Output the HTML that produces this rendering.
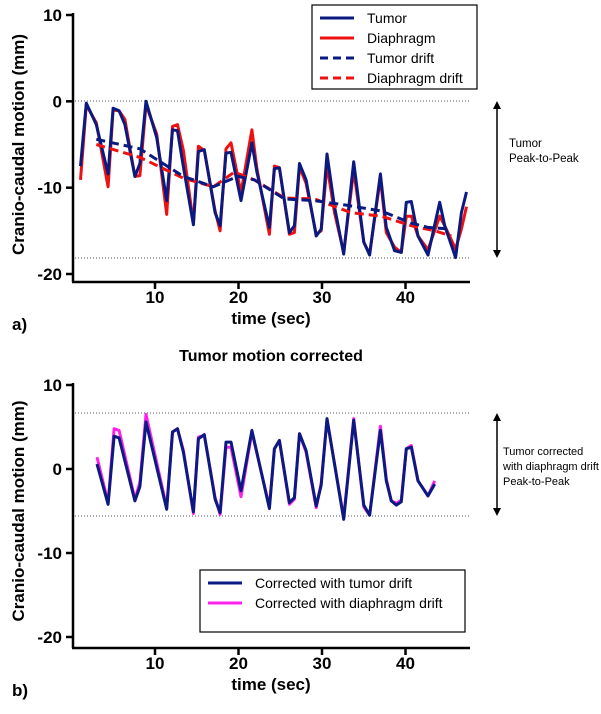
<!DOCTYPE html>
<html><head><meta charset="utf-8"><style>
body{margin:0;background:#fff;}
svg{font-family:"Liberation Sans",Arial,sans-serif;}
</style></head><body>
<svg id="chart" width="601" height="709" viewBox="0 0 601 709" xmlns="http://www.w3.org/2000/svg"></svg>
<script>
// Panel a data
const tumorT=[1.08,1.77,2.97,4.38,4.98,5.70,6.39,7.59,8.19,8.92,10.2,11.4,12.1,12.7,13.4,14.6,15.2,15.9,17.2,17.8,18.5,19.1,20.3,21.6,22.2,23.7,24.3,24.9,26.1,26.7,27.3,28.1,29.3,29.9,30.6,31.5,32.6,33.8,35.0,35.7,37.0,37.7,38.7,39.5,40.1,40.7,41.5,42.7,44.1,44.7,46.0,46.7,47.3];
const tumorV=[-7.5,-0.2,-2.7,-8.4,-0.8,-1.1,-2.7,-8.7,-7.2,0,-4.2,-11.5,-3.3,-3.4,-7.6,-14.3,-5.8,-5.6,-12.9,-14.4,-6.0,-5.9,-11.5,-4.8,-8.2,-14.6,-7.8,-7.7,-15.2,-14.4,-7.2,-9.1,-15.6,-14.8,-6.1,-12.2,-17.7,-7.0,-16.3,-17.8,-8.4,-14.6,-17.3,-17.5,-11.7,-11.6,-15.6,-17.8,-11.7,-14.4,-18.1,-12.9,-10.5];
const diaT=tumorT;
const diaV=[-9.1,-0.4,-2.5,-9.9,-1.0,-1.1,-2.1,-8.7,-8.6,-0.4,-3.8,-13.1,-2.9,-2.7,-5.7,-14.1,-5.2,-5.7,-12.7,-15.0,-5.5,-4.8,-10.6,-3.3,-7.8,-15.4,-7.5,-7.7,-15.4,-15.2,-7.6,-9.5,-15.4,-15.0,-7.4,-12.9,-17.5,-8.0,-16.3,-17.7,-8.9,-15.2,-16.9,-17.5,-13.3,-13.3,-15.6,-17.2,-13.3,-14.4,-17.1,-14.8,-12.2];
const tDriftT=[2.97,8.19,13.4,17.0,19.9,21.9,25.5,29.1,32.7,37.1,40.7,42.7,45.5];
const tDriftV=[-4.4,-5.5,-8.7,-9.9,-8.7,-9.1,-11.3,-11.5,-12.0,-12.7,-14.1,-14.6,-14.8];
const dDriftT=[2.97,8.19,13.4,17.0,19.5,21.9,25.5,29.1,33.5,37.1,40.7,43.5,45.5];
const dDriftV=[-5.0,-6.5,-8.9,-9.9,-8.2,-9.1,-11.2,-11.3,-12.9,-13.3,-14.4,-15.0,-15.6];
// Panel b data
const corrT=[3.05,4.38,5.10,5.70,7.59,8.19,8.92,11.4,12.1,12.7,13.4,14.6,15.2,15.9,17.2,17.8,18.5,19.1,20.3,21.6,23.7,24.3,24.9,26.1,26.7,27.3,28.1,29.3,29.9,30.6,32.6,33.8,35.0,35.7,37.0,37.7,38.3,38.9,39.5,40.1,40.7,41.5,42.7,43.5];
const corrTumorV=[0.6,-4.2,3.9,3.7,-3.8,-2.1,5.6,-4.8,4.4,4.8,2.0,-5.1,3.6,4.1,-3.6,-5.2,3.2,3.2,-2.6,4.6,-4.7,2.4,3.4,-4.0,-3.4,4.2,2.2,-4.4,-1.9,6.0,-6.0,5.8,-4.3,-5.5,4.6,-1.4,-3.8,-4.3,-3.9,2.4,2.6,-1.4,-3.2,-1.8];
const corrDiaV=[1.4,-4.0,4.8,4.6,-3.6,-1.6,6.5,-4.6,4.4,4.8,2.2,-5.3,3.8,4.0,-3.4,-5.4,2.6,2.6,-3.3,4.4,-4.5,2.4,3.4,-4.2,-3.6,4.2,2.0,-4.6,-1.7,5.9,-5.8,6.0,-4.5,-5.5,5.1,-1.2,-3.8,-4.1,-3.7,2.4,2.8,-1.4,-3.2,-1.4];
const xTicks=[10,20,30,40];
const yTicks=[10,0,-10,-20];

const NS="http://www.w3.org/2000/svg";
const svg=document.getElementById('chart');
function el(tag,attrs,parent){const e=document.createElementNS(NS,tag);for(const k in attrs)e.setAttribute(k,attrs[k]);(parent||svg).appendChild(e);return e;}
function txt(s,attrs,parent){const e=el('text',attrs,parent);e.textContent=s;return e;}
const xS=t=>71.5+8.35*t;

function panel(name,yTop,yBot,axisY){
  const g=el('g',{});
  
  
  const yS=v=>yTop+(10-v)*(yBot-yTop)/30;
  const ya=el('line',{x1:73,y1:yTop-2,x2:73,y2:axisY,stroke:'#000','stroke-width':2.5},g);
  
  const xa=el('line',{x1:72,y1:axisY,x2:470,y2:axisY,stroke:'#000','stroke-width':2.5},g);
  
  yTicks.forEach(v=>{
    el('line',{x1:66,x2:73,y1:yS(v),y2:yS(v),stroke:'#000','stroke-width':2.5},g);
    const t=txt(String(v),{x:62,y:yS(v)+6,'text-anchor':'end','font-size':17,'font-weight':'bold'},g);
    
  });
  xTicks.forEach(v=>{
    el('line',{x1:xS(v),x2:xS(v),y1:axisY,y2:axisY+7,stroke:'#000','stroke-width':2.5},g);
    const t=txt(String(v),{x:xS(v),y:axisY+21,'text-anchor':'middle','font-size':17,'font-weight':'bold'},g);
    
  });
  const xt=txt('time (sec)',{x:271,y:axisY+42,'text-anchor':'middle','font-size':17,'font-weight':'bold'},g);
  
  const yc=(yTop+yBot)/2;
  const yt=txt('Cranio-caudal motion (mm)',{x:24,y:yc,'text-anchor':'middle','font-size':17,'font-weight':'bold',transform:`rotate(-90 24 ${yc})`},g);
  
  return {g,yS};
}
function line(g,yS,T,V,color,dash,name,w){
  const p=el('polyline',{points:T.map((t,i)=>xS(t).toFixed(1)+','+yS(V[i]).toFixed(1)).join(' '),fill:'none',stroke:color,'stroke-width':w||3,'stroke-linejoin':'round','stroke-dasharray':dash||'none'},g);
  
}
function legend(x,y,w,h,items,name){
  const g=el('g',{});
  
  el('rect',{x,y,width:w,height:h,fill:'#fff',stroke:'#000','stroke-width':1.2},g);
  items.forEach((it,i)=>{
    const yy=y+13+i*20;
    el('line',{x1:x+8,x2:x+42,y1:yy,y2:yy,stroke:it[1],'stroke-width':3,'stroke-dasharray':it[2]||'none'},g);
    const t=txt(it[0],{x:x+55,y:yy+5,'font-size':14},g);
    
  });
}
function arrow(x,y1,y2){
  el('line',{x1:x,x2:x,y1:y1+7,y2:y2-7,stroke:'#000','stroke-width':1.5});
  el('polygon',{points:`${x-4},${y1+8} ${x+4},${y1+8} ${x},${y1}`,fill:'#000'});
  el('polygon',{points:`${x-4},${y2-8} ${x+4},${y2-8} ${x},${y2}`,fill:'#000'});
}

// Panel a
const A=panel('panel-a',15,274,282);
[101,258].forEach(y=>el('line',{x1:75,x2:470,y1:y,y2:y,stroke:'#555','stroke-width':1,'stroke-dasharray':'1,2'},A.g));
line(A.g,A.yS,diaT,diaV,'#ee1111',null,'diaphragm-line');
line(A.g,A.yS,tumorT,tumorV,'#0a1a80',null,'tumor-line');
line(A.g,A.yS,dDriftT,dDriftV,'#ee1111','9,5','diaphragm-drift-line');
line(A.g,A.yS,tDriftT,tDriftV,'#0a1a80','9,5','tumor-drift-line');
arrow(497,101,258);
txt('Tumor',{x:509,y:147,'font-size':11.5});
txt('Peak-to-Peak',{x:509,y:162,'font-size':11.5});
legend(312,5,165,84,[['Tumor','#0a1a80'],['Diaphragm','#ee1111'],['Tumor drift','#0a1a80','8,5'],['Diaphragm drift','#ee1111','8,5']],'legend-a');
const la=txt('a)',{x:12,y:330,'font-size':17,'font-weight':'bold'});

// Panel b
const B=panel('panel-b',385,637,648);
const bt=txt('Tumor motion corrected',{x:271,y:361,'text-anchor':'middle','font-size':16,'font-weight':'bold'});

[413,516].forEach(y=>el('line',{x1:75,x2:470,y1:y,y2:y,stroke:'#555','stroke-width':1,'stroke-dasharray':'1,2'},B.g));
line(B.g,B.yS,corrT,corrDiaV,'#ff22ee',null,'corrected-diaphragm-line');
line(B.g,B.yS,corrT,corrTumorV,'#0a1a80',null,'corrected-tumor-line');
arrow(497,413,516);
txt('Tumor corrected',{x:503,y:455,'font-size':11});
txt('with diaphragm drift',{x:503,y:470,'font-size':11});
txt('Peak-to-Peak',{x:503,y:485,'font-size':11});
legend(200,570,265,62,[['Corrected with tumor drift','#0a1a80'],['Corrected with diaphragm drift','#ff22ee']],'legend-b');
const lb=txt('b)',{x:12,y:696,'font-size':17,'font-weight':'bold'});
</script>
</body></html>
